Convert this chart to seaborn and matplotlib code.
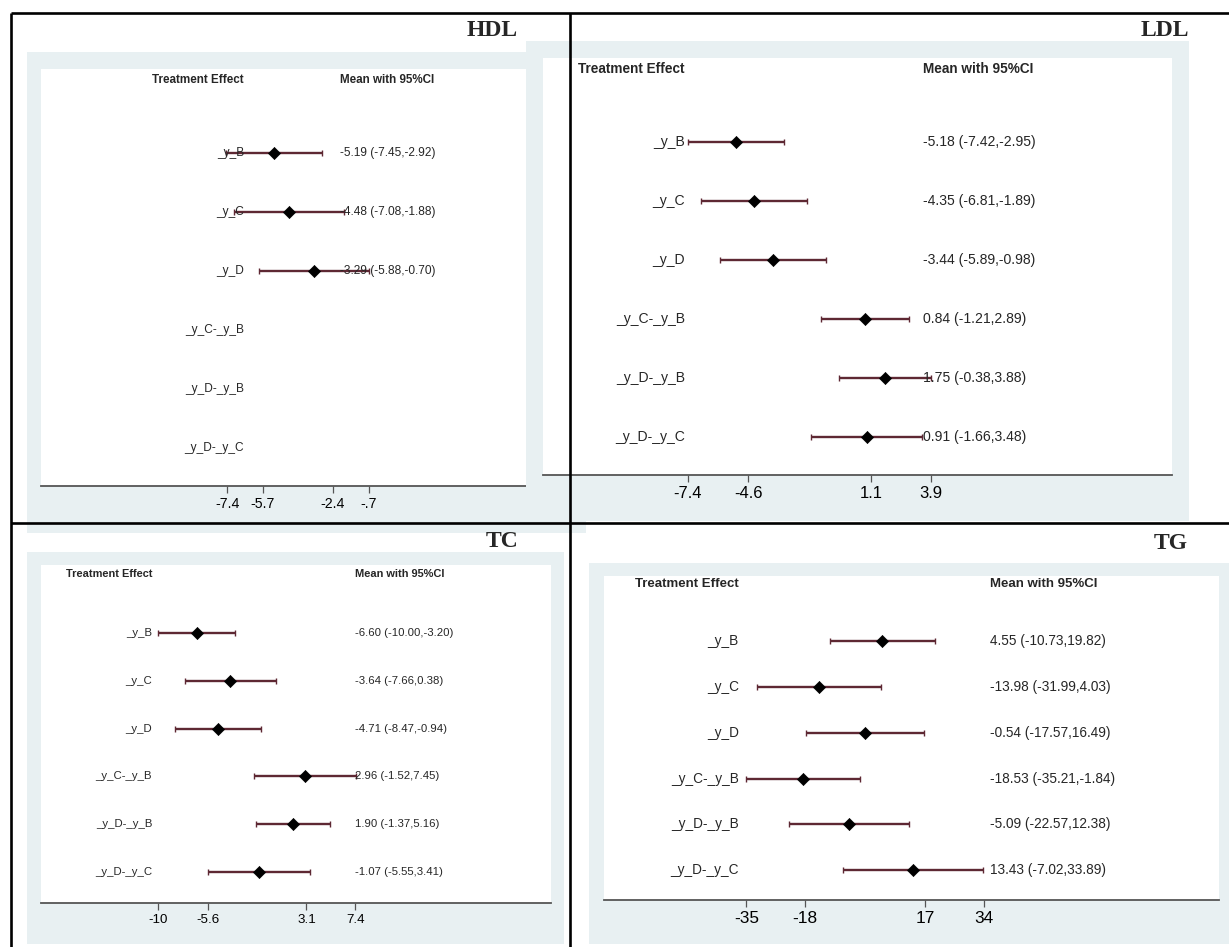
import numpy as np
import pandas as pd
import matplotlib
matplotlib.use("Agg")
import matplotlib.pyplot as plt
import seaborn as sns

# comparisons shown in every panel (top to bottom)
comparisons = ["_y_B", "_y_C", "_y_D", "_y_C-_y_B", "_y_D-_y_B", "_y_D-_y_C"]

# HDL: only the three single-group effects were reported
hdl_mean = [-5.19, -4.48, -3.29, np.nan, np.nan, np.nan]
hdl_lower = [-7.45, -7.08, -5.88, np.nan, np.nan, np.nan]
hdl_upper = [-2.92, -1.88, -0.70, np.nan, np.nan, np.nan]
hdl_ticks = [-7.4, -5.7, -2.4, -0.7]
hdl_ticklabels = ["-7.4", "-5.7", "-2.4", "-.7"]

ldl_mean = [-5.18, -4.35, -3.44, 0.84, 1.75, 0.91]
ldl_lower = [-7.42, -6.81, -5.89, -1.21, -0.38, -1.66]
ldl_upper = [-2.95, -1.89, -0.98, 2.89, 3.88, 3.48]
ldl_ticks = [-7.4, -4.6, 1.1, 3.9]
ldl_ticklabels = ["-7.4", "-4.6", "1.1", "3.9"]

tc_mean = [-6.60, -3.64, -4.71, 2.96, 1.90, -1.07]
tc_lower = [-10.00, -7.66, -8.47, -1.52, -1.37, -5.55]
tc_upper = [-3.20, 0.38, -0.94, 7.45, 5.16, 3.41]
tc_ticks = [-10, -5.6, 3.1, 7.4]
tc_ticklabels = ["-10", "-5.6", "3.1", "7.4"]

tg_mean = [4.55, -13.98, -0.54, -18.53, -5.09, 13.43]
tg_lower = [-10.73, -31.99, -17.57, -35.21, -22.57, -7.02]
tg_upper = [19.82, 4.03, 16.49, -1.84, 12.38, 33.89]
tg_ticks = [-35, -18, 17, 34]
tg_ticklabels = ["-35", "-18", "17", "34"]

W, H = 1229, 947
BG = "#e8f0f2"
CI_COLOR = "#5e2833"
AXIS_COLOR = "#555555"

sns.set_theme(style="white")
plt.rcParams["font.family"] = ["Liberation Sans", "DejaVu Sans"]

fig = plt.figure(figsize=(W / 100, H / 100), dpi=100)
fig.patch.set_facecolor("white")


def px_rect(x0, y0, x1, y1):
    return [x0 / W, 1 - y1 / H, (x1 - x0) / W, (y1 - y0) / H]


# pixel layout of each Stata graph inside the table
layouts = {
    "HDL": dict(outer=(27, 52, 586, 533), inner=(41, 69, 572, 486), xlim=(-16.21, 8.93),
                label_x=-6.6, text_x=-2.05, fs=8.6, tick_fs=10.2),
    "LDL": dict(outer=(526, 41, 1189, 521), inner=(543, 58, 1172, 475), xlim=(-14.14, 15.1),
                label_x=-7.54, text_x=3.53, fs=10.1, tick_fs=12),
    "TC": dict(outer=(27, 552, 564, 944), inner=(41, 565, 551, 903), xlim=(-20.34, 24.7),
               label_x=-10.53, text_x=7.4, fs=8.2, tick_fs=9.6),
    "TG": dict(outer=(589, 563, 1229, 944), inner=(604, 576, 1219, 900), xlim=(-76.4, 102.4),
               label_x=-37.2, text_x=35.8, fs=9.8, tick_fs=12.4),
}


def draw_panel(mean, lower, upper, ticks, ticklabels, lay):
    outer = fig.add_axes(px_rect(*lay["outer"]))
    outer.set_facecolor(BG)
    outer.set_xticks([])
    outer.set_yticks([])
    for s in outer.spines.values():
        s.set_visible(False)

    ax = fig.add_axes(px_rect(*lay["inner"]))
    ax.set_facecolor("white")
    df = pd.DataFrame({"label": comparisons, "pos": np.arange(len(comparisons)),
                       "mean": mean, "lower": lower, "upper": upper})
    ok = df.dropna()
    ax.errorbar(ok["mean"], ok["pos"],
                xerr=[ok["mean"] - ok["lower"], ok["upper"] - ok["mean"]],
                fmt="none", ecolor=CI_COLOR, elinewidth=1.7, capsize=2.5, capthick=1.0, zorder=2)
    sns.scatterplot(data=ok, x="mean", y="pos", marker="D", color="black", s=38,
                    edgecolor="black", linewidth=0.5, ax=ax, zorder=3, legend=False)

    fs = lay["fs"]
    ax.text(lay["label_x"], -1.25, "Treatment Effect", ha="right", va="center",
            fontsize=fs * 0.97, fontweight="bold")
    ax.text(lay["text_x"], -1.25, "Mean with 95%CI", ha="left", va="center",
            fontsize=fs * 0.97, fontweight="bold")
    for i, row in df.iterrows():
        ax.text(lay["label_x"], row["pos"], row["label"], ha="right", va="center", fontsize=fs)
        if not np.isnan(row["mean"]):
            txt = f"{row['mean']:.2f} ({row['lower']:.2f},{row['upper']:.2f})"
            ax.text(lay["text_x"], row["pos"], txt, ha="left", va="center", fontsize=fs)

    ax.set_xlim(*lay["xlim"])
    ax.set_ylim(5.65, -1.43)
    ax.set_xlabel("")
    ax.set_ylabel("")
    ax.set_yticks([])
    ax.set_xticks(ticks, ticklabels)
    ax.tick_params(axis="x", bottom=True, direction="out", length=5, width=0.9,
                   color=AXIS_COLOR, labelsize=lay["tick_fs"], pad=3, labelcolor="black")
    for side in ["top", "left", "right"]:
        ax.spines[side].set_visible(False)
    ax.spines["bottom"].set_color(AXIS_COLOR)
    ax.spines["bottom"].set_linewidth(1.3)
    return ax


draw_panel(hdl_mean, hdl_lower, hdl_upper, hdl_ticks, hdl_ticklabels, layouts["HDL"])
draw_panel(ldl_mean, ldl_lower, ldl_upper, ldl_ticks, ldl_ticklabels, layouts["LDL"])
draw_panel(tc_mean, tc_lower, tc_upper, tc_ticks, tc_ticklabels, layouts["TC"])
draw_panel(tg_mean, tg_lower, tg_upper, tg_ticks, tg_ticklabels, layouts["TG"])

# table borders and panel titles on top
over = fig.add_axes([0, 0, 1, 1])
over.set_xlim(0, W)
over.set_ylim(H, 0)
over.axis("off")
bw = 1.9
over.plot([11, W], [13, 13], color="black", lw=bw, solid_capstyle="butt")
over.plot([11, 11], [13, H], color="black", lw=bw, solid_capstyle="butt")
over.plot([570, 570], [13, H], color="black", lw=bw, solid_capstyle="butt")
over.plot([11, W], [523, 523], color="black", lw=bw, solid_capstyle="butt")

title_font = dict(family=["Liberation Serif", "DejaVu Serif"], fontweight="bold", fontsize=17,
                  ha="right", va="center")
over.text(518, 30, "HDL", **title_font)
over.text(1189, 30, "LDL", **title_font)
over.text(518, 541, "TC", **title_font)
over.text(1188, 543, "TG", **title_font)

fig.savefig("out.png", dpi=100)
